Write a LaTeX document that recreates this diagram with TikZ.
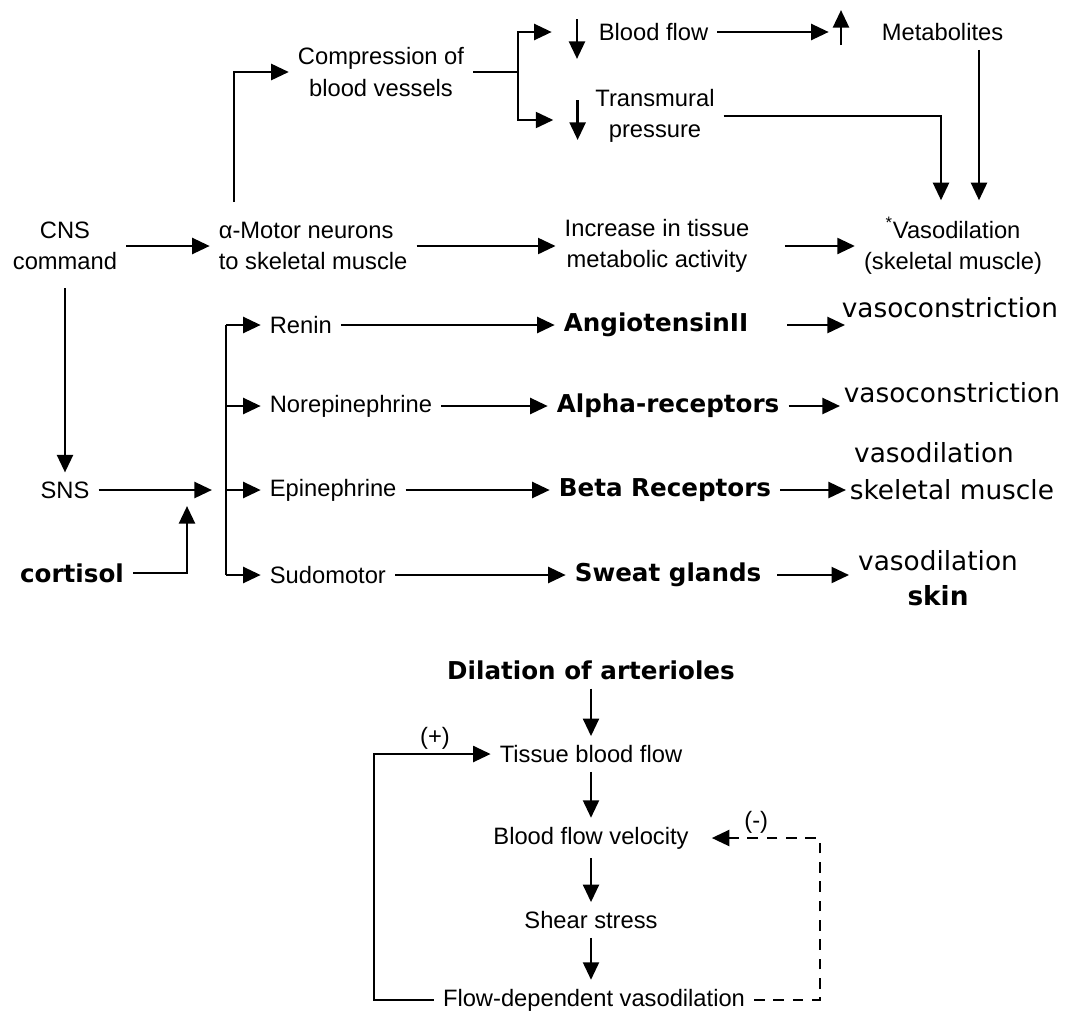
\documentclass[tikz,border=0pt]{standalone}
\usepackage{fontspec}
\setmainfont{Liberation Sans}
\newfontfamily\vfont{DejaVu Sans}
\usetikzlibrary{calc,arrows.meta}

\begin{document}
\begin{tikzpicture}[x=0.02cm, y=-0.02cm,
    >={Triangle[length=10pt,width=9pt]},
    arr/.style={->, line width=1.6pt, shorten >=3pt, shorten <=3pt},
    txt/.style={font=\fontsize{13.5}{18}\selectfont, align=center, inner sep=2pt},
    bold/.style={font=\vfont\bfseries\fontsize{14}{18}\selectfont, inner sep=2pt},
    res/.style={font=\vfont\fontsize{15}{20}\selectfont, align=center, inner sep=2pt}]
    \useasboundingbox (0,0) rectangle (1067,1018);

    % Draw the top row
    \node[txt] (cns) at (65,246) {CNS\\command};
    \node[txt, anchor=west, align=left] (motor) at (215,246) {α-Motor neurons\\to skeletal muscle};
    \node[txt] (comp) at (381,72) {Compression of\\blood vessels};
    \node[txt, anchor=west] (bflow) at (595,32) {Blood flow};
    \node[txt, anchor=west] (metab) at (878,32) {Metabolites};
    \node[txt] (trans) at (655,116) {Transmural\\pressure};
    \node[txt] (incr) at (657,246) {Increase in tissue\\metabolic activity};
    \node[txt] (vaso) at (953,246) {\textsuperscript{*}Vasodilation\\(skeletal muscle)};

    \draw[arr] (cns.east) -- (motor.west);
    \draw[arr, shorten <=0pt] ($(motor.north west)+(19,-16)$) |- (comp.west);
    \coordinate (split) at ($(comp.east)+(50,0)$);
    \draw[line width=1.6pt, shorten <=3pt] (comp.east) -- (split);
    \draw[arr, shorten <=0pt] (split) |- ($(bflow.west)+(-38,0)$);
    \draw[arr, shorten <=0pt] (split) |- ($(trans.west)+(-33,4)$);
    % Draw the small up and down arrows
    \draw[arr, shorten <=0pt, shorten >=0pt] ($(bflow.west)+(-18,-13)$) -- ++(0,40);
    \draw[arr, shorten <=0pt, shorten >=0pt] ($(trans.west)+(-14,-16)$) -- ++(0,40);
    \draw[arr, shorten <=0pt, shorten >=0pt] ($(metab.west)+(-37,13)$) -- ++(0,-35);
    \draw[arr] (bflow.east) -- ($(metab.west)+(-44,0)$);
    \coordinate (mv) at ($(vaso.north)+(26,-8)$);
    \draw[arr] (metab.south -| mv) -- (mv);
    \draw[arr] (trans.east) -| ($(vaso.north)+(-12,-8)$);
    \draw[arr] (motor.east) -- (incr.west);
    \draw[arr, shorten <=18pt] (incr.east) -- (vaso.west);

    % Draw the sympathetic part
    \node[txt] (sns) at (65,490) {SNS};
    \node[bold] (cort) at (72,573) {cortisol};
    \coordinate (join) at (212,490);
    \coordinate (cortin) at (187,506);
    \draw[arr, shorten <=8pt] (cns.south) -- (sns.north);
    \draw[arr, shorten >=0pt] (sns.east) -- (join);
    \draw[arr, shorten >=0pt] (cort.east) -| (cortin);

    \coordinate (bus) at (226,0);
    \node[txt, anchor=west] (renin) at (266,325) {Renin};
    \node[txt, anchor=west] (norepi) at (266,406) {Norepinephrine};
    \node[txt, anchor=west] (epi) at (266,490) {Epinephrine};
    \node[txt, anchor=west] (sudo) at (266,575) {Sudomotor};
    \draw[line width=1.6pt] (renin.west -| bus) -- (sudo.west -| bus);
    \foreach \n in {renin,norepi,epi,sudo}
        \draw[arr, shorten <=0pt] (\n.west -| bus) -- (\n.west);

    \node[bold, anchor=west] (angio) at (560,325) {AngiotensinII};
    \node[bold, anchor=west] (alpha) at (553,406) {Alpha-receptors};
    \node[bold, anchor=west] (beta) at (555,490) {Beta Receptors};
    \node[bold, anchor=west] (sweat) at (571,575) {Sweat glands};
    \draw[arr] (renin.east) -- (angio.west);
    \draw[arr] (norepi.east) -- (alpha.west);
    \draw[arr] (epi.east) -- (beta.west);
    \draw[arr] (sudo.east) -- (sweat.west);

    \node[res, anchor=west] (vc1) at (838,308) {vasoconstriction};
    \node[res, anchor=west] (vc2) at (840,393) {vasoconstriction};
    \node[res] (vd1) at (934,453) {vasodilation};
    \node[res, anchor=west] (skm) at (846,490) {skeletal muscle};
    \node[res] (vd2) at (938,578) {vasodilation\\\textbf{skin}};
    \draw[arr, shorten <=20pt, shorten >=-4pt] (angio.east) -- (angio.east -| vc1.west);
    \draw[arr, shorten >=0pt] (alpha.east) -- (alpha.east -| vc2.west);
    \draw[arr, shorten >=0pt] (beta.east) -- (skm.west);
    \draw[arr, shorten <=7pt] (sweat.east) -- (sweat.east -| vd2.west);

    % Draw the feedback loop
    \node[bold] (dil) at (591,670) {Dilation of arterioles};
    \node[txt] (tbf) at (591,754) {Tissue blood flow};
    \node[txt] (bfv) at (591,838) {Blood flow velocity};
    \node[txt] (shear) at (591,920) {Shear stress};
    \node[txt] (fdv) at (594,1000) {Flow-dependent vasodilation};
    \draw[arr] (dil) -- (tbf);
    \draw[arr] (tbf) -- (bfv);
    \draw[arr] (bfv) -- (shear);
    \draw[arr] (shear.south) -- (shear.south |- fdv.north);

    \coordinate (lpos) at (374,0);
    \coordinate (lneg) at (820,0);
    \draw[arr] (fdv.west) -- (fdv.west -| lpos) |- (tbf.west) node[txt, pos=0.75, above] {(+)};
    \draw[arr, dash pattern=on 6pt off 5pt, shorten >=11pt] (fdv.east) -- (fdv.east -| lneg) |- (bfv.east) node[txt, pos=0.75, above] {(-)};
\end{tikzpicture}
\end{document}
